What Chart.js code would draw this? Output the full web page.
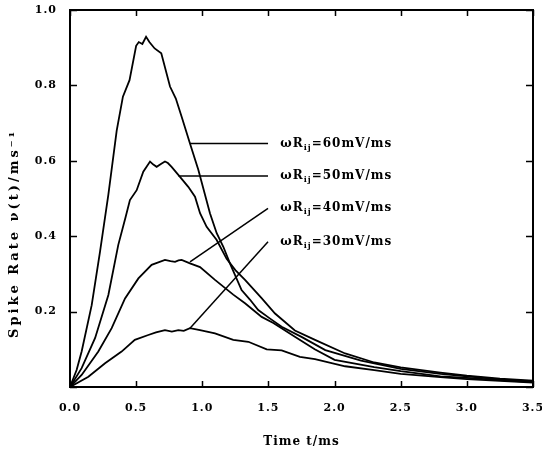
<!DOCTYPE html>
<html lang="en">
<head>
  <meta charset="UTF-8">
  <title>Spike Rate</title>
  <script src="https://cdn.jsdelivr.net/npm/chart.js"></script>
  <style>
    html, body { margin: 0; padding: 0; background: #fff; }
    #wrap { width: 542px; height: 453px; }
  </style>
</head>
<body>
<div id="wrap"><canvas id="rateChart" width="542" height="453"></canvas></div>

<script>
  // Spike rate curves (t in ms, rate in 1/ms)
  const t60 = [0, 0.05, 0.088, 0.164, 0.227, 0.29, 0.353, 0.40, 0.45, 0.50, 0.52, 0.547, 0.575, 0.60, 0.64, 0.69, 0.756, 0.80, 0.844, 0.907, 0.97, 1.058, 1.109, 1.159, 1.209, 1.297, 1.36, 1.423, 1.51, 1.6, 1.75, 1.93, 2.2, 2.5, 2.8, 3.0, 3.25, 3.5];
  const v60 = [0, 0.045, 0.094, 0.217, 0.359, 0.51, 0.68, 0.77, 0.814, 0.905, 0.915, 0.91, 0.929, 0.915, 0.898, 0.885, 0.797, 0.765, 0.717, 0.646, 0.576, 0.461, 0.408, 0.372, 0.328, 0.257, 0.232, 0.204, 0.182, 0.16, 0.133, 0.098, 0.07, 0.048, 0.035, 0.028, 0.02, 0.015];

  const t50 = [0, 0.088, 0.19, 0.29, 0.365, 0.42, 0.453, 0.504, 0.554, 0.605, 0.63, 0.655, 0.69, 0.718, 0.74, 0.768, 0.83, 0.894, 0.945, 0.983, 1.033, 1.109, 1.184, 1.25, 1.323, 1.45, 1.55, 1.7, 1.852, 2.08, 2.3, 2.5, 2.8, 3.0, 3.25, 3.5];
  const v50 = [0, 0.05, 0.13, 0.244, 0.377, 0.45, 0.496, 0.522, 0.571, 0.598, 0.59, 0.584, 0.592, 0.598, 0.594, 0.584, 0.558, 0.531, 0.505, 0.461, 0.425, 0.39, 0.34, 0.31, 0.284, 0.235, 0.195, 0.15, 0.125, 0.089, 0.065, 0.052, 0.038, 0.03, 0.022, 0.017];

  const t40 = [0, 0.088, 0.214, 0.315, 0.416, 0.517, 0.617, 0.718, 0.76, 0.794, 0.82, 0.844, 0.907, 0.983, 1.096, 1.234, 1.323, 1.449, 1.537, 1.70, 1.85, 2.0, 2.3, 2.5, 2.8, 3.0, 3.25, 3.5];
  const v40 = [0, 0.032, 0.094, 0.156, 0.235, 0.288, 0.324, 0.337, 0.334, 0.332, 0.336, 0.337, 0.328, 0.318, 0.284, 0.245, 0.222, 0.186, 0.17, 0.133, 0.1, 0.072, 0.053, 0.042, 0.028, 0.024, 0.018, 0.013];

  const t30 = [0, 0.139, 0.265, 0.39, 0.49, 0.592, 0.65, 0.718, 0.77, 0.819, 0.86, 0.907, 0.983, 1.096, 1.234, 1.348, 1.487, 1.6, 1.738, 1.852, 2.08, 2.3, 2.5, 2.8, 3.0, 3.25, 3.5];
  const v30 = [0, 0.027, 0.063, 0.094, 0.125, 0.138, 0.145, 0.151, 0.147, 0.151, 0.149, 0.156, 0.151, 0.142, 0.125, 0.12, 0.1, 0.097, 0.08, 0.074, 0.055, 0.045, 0.035, 0.026, 0.021, 0.016, 0.012];

  // leader lines from each curve to its label
  const labelTexts = ['=60mV/ms', '=50mV/ms', '=40mV/ms', '=30mV/ms'];
  const leaderStartT = [0.907, 0.82, 0.907, 0.907];
  const leaderStartV = [0.646, 0.56, 0.332, 0.156];
  const leaderEndT = [1.497, 1.497, 1.497, 1.497];
  const leaderEndV = [0.646, 0.56, 0.474, 0.385];
  const labelT = 1.59;

  const xTicks = [0, 0.5, 1, 1.5, 2, 2.5, 3, 3.5];
  const yTicks = [0, 0.2, 0.4, 0.6, 0.8, 1.0];

  const tickFont = { family: 'DejaVu Serif', size: 11, weight: 'bold' };

  function pts(ts, vs) {
    return ts.map((t, i) => ({ x: t, y: vs[i] }));
  }

  const curveStyle = { borderColor: '#000', borderWidth: 1.8, pointRadius: 0, fill: false, tension: 0 };

  const datasets = [
    Object.assign({ label: '60', data: pts(t60, v60) }, curveStyle),
    Object.assign({ label: '50', data: pts(t50, v50) }, curveStyle),
    Object.assign({ label: '40', data: pts(t40, v40) }, curveStyle),
    Object.assign({ label: '30', data: pts(t30, v30) }, curveStyle),
  ];
  for (let i = 0; i < labelTexts.length; i++) {
    datasets.push(Object.assign({}, curveStyle, {
      label: 'leader' + i,
      borderWidth: 1.5,
      data: [{ x: leaderStartT[i], y: leaderStartV[i] }, { x: leaderEndT[i], y: leaderEndV[i] }],
    }));
  }

  // frame, inward ticks, curve labels and y title
  const framePlugin = {
    id: 'frame',
    beforeDraw(chart) {
      chart.ctx.letterSpacing = '1px';
    },
    afterDraw(chart) {
      const ctx = chart.ctx;
      const a = chart.chartArea;
      const xs = chart.scales.x;
      const ys = chart.scales.y;
      ctx.save();
      ctx.strokeStyle = '#000';
      ctx.lineWidth = 2;
      ctx.strokeRect(a.left, a.top, a.right - a.left, a.bottom - a.top);

      ctx.lineWidth = 1.5;
      ctx.beginPath();
      xTicks.forEach(v => {
        const px = Math.round(xs.getPixelForValue(v)) + 0.5;
        ctx.moveTo(px, a.bottom); ctx.lineTo(px, a.bottom - 6);
        ctx.moveTo(px, a.top); ctx.lineTo(px, a.top + 6);
      });
      yTicks.forEach(v => {
        const py = Math.round(ys.getPixelForValue(v)) + 0.5;
        ctx.moveTo(a.left, py); ctx.lineTo(a.left + 7, py);
        ctx.moveTo(a.right, py); ctx.lineTo(a.right - 7, py);
      });
      ctx.stroke();

      // curve labels: ωR_ij=..mV/ms
      ctx.fillStyle = '#000';
      ctx.textBaseline = 'middle';
      ctx.textAlign = 'left';
      ctx.letterSpacing = '1px';
      labelTexts.forEach((txt, i) => {
        let x = xs.getPixelForValue(labelT);
        const y = ys.getPixelForValue(leaderEndV[i]);
        ctx.font = 'bold 12px "DejaVu Serif"';
        ctx.fillText('ωR', x, y);
        x += ctx.measureText('ωR').width;
        ctx.font = 'bold 8px "DejaVu Serif"';
        ctx.fillText('ij', x, y + 4);
        x += ctx.measureText('ij').width;
        ctx.font = 'bold 12px "DejaVu Serif"';
        ctx.fillText(txt, x, y);
      });

      // y axis title, reading upwards from just above the 0.1 level
      ctx.save();
      ctx.translate(15, a.top + (a.bottom - a.top) * 0.87);
      ctx.rotate(-Math.PI / 2);
      ctx.textAlign = 'left';
      ctx.letterSpacing = '3px';
      ctx.font = 'bold 13px "DejaVu Serif"';
      ctx.fillText('Spike Rate ν(t)/ms⁻¹', 0, 0);
      ctx.restore();
      ctx.restore();
    }
  };

  new Chart(document.getElementById('rateChart'), {
    type: 'line',
    data: { datasets },
    options: {
      responsive: false,
      animation: false,
      layout: { padding: { top: 10, right: 9, left: 0, bottom: 0 } },
      plugins: { legend: { display: false }, tooltip: { enabled: false } },
      scales: {
        x: {
          type: 'linear',
          min: 0,
          max: 3.5,
          grid: { display: false, drawTicks: false },
          border: { display: false },
          afterBuildTicks: s => { s.ticks = xTicks.map(v => ({ value: v })); },
          ticks: {
            color: '#000',
            font: tickFont,
            padding: 15,
            maxRotation: 0,
            callback: v => v.toFixed(1),
          },
          title: {
            display: true,
            text: 'Time t/ms',
            color: '#000',
            font: { family: 'DejaVu Serif', size: 12, weight: 'bold' },
            padding: { top: 14 },
          },
          afterFit: s => { s.height = 66; s.paddingLeft = 0; s.paddingRight = 0; },
        },
        y: {
          min: 0,
          max: 1.0,
          grid: { display: false, drawTicks: false },
          border: { display: false },
          afterBuildTicks: s => { s.ticks = yTicks.map(v => ({ value: v })); },
          ticks: {
            color: '#000',
            font: tickFont,
            padding: 13,
            callback: v => (v === 0 ? '' : v.toFixed(1)),
          },
          afterFit: s => { s.width = 70; s.paddingTop = 0; s.paddingBottom = 0; },
        },
      },
    },
    plugins: [framePlugin],
  });
</script>
</body>
</html>
